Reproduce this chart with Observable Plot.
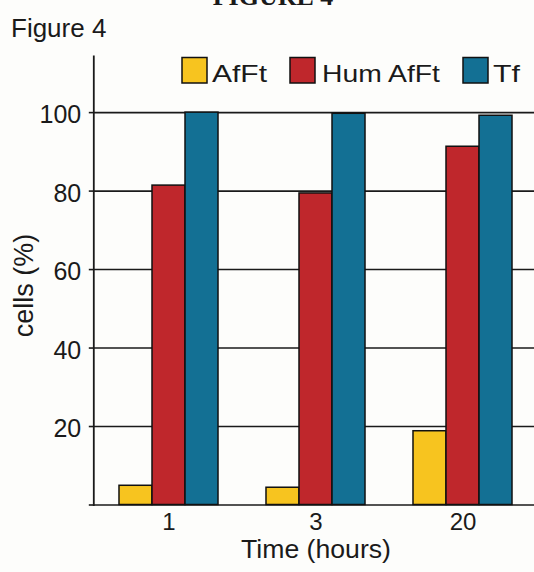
<!DOCTYPE html>
<html><head><meta charset="utf-8">
<script src="https://cdn.jsdelivr.net/npm/d3@7"></script>
<script src="https://cdn.jsdelivr.net/npm/@observablehq/plot@0.6"></script>
<style>
html,body{margin:0;padding:0;background:#fdfdfb;}
#wrap{position:relative;width:534px;height:572px;overflow:hidden;}
#wrap svg{position:absolute;left:0;top:0;}
</style></head><body><div id="wrap"></div>
<script>
const times = ["1", "3", "20"];
const seriesNames = ["AfFt", "Hum AfFt", "Tf"];
const afft = [4.9, 4.4, 18.8];
const humAfft = [81.4, 79.4, 91.3];
const tf = [100, 99.7, 99.2];
const colors = ["#f7c41f", "#bf272c", "#137094"];
const yTicks = [0, 20, 40, 60, 80, 100];
const values = [afft, humAfft, tf];

const W = 534, H = 572, mL = 93.3, mR = 0, mT = 56, mB = 67.5;
const pi = 0.7764, po = 0.381;
const step = (W - mL - mR) / (times.length - pi + 2 * po);
const bw = step * (1 - pi);

const rows = seriesNames.flatMap((s, si) => times.map((t, ti) => ({time: t, series: s, value: values[si][ti]})));
const font = "'Liberation Sans', Arial, Helvetica, sans-serif";

const plot = Plot.plot({
  width: W, height: H, marginLeft: mL, marginRight: mR, marginTop: mT, marginBottom: mB,
  style: {background: "transparent", fontFamily: font, color: "#1a1a1a"},
  x: {type: "band", domain: times, paddingInner: pi, paddingOuter: po, align: 0.517},
  y: {domain: [0, 114.3]},
  marks: [
    Plot.gridY(yTicks, {stroke: "#1a1a1a", strokeOpacity: 1, strokeWidth: 1.6}),
    ...seriesNames.map((s, si) => Plot.barY(rows.filter(r => r.series === s), {
      x: "time", y: "value", fill: colors[si], stroke: "#111", strokeWidth: 1.5, dx: (si - 1) * bw
    })),
    Plot.axisY(yTicks, {tickSize: 4.5, fill: "none", label: null, strokeWidth: 1.6}),
    Plot.axisY(yTicks.filter(d => d > 0), {tickSize: 0, tickPadding: 12.6, fontSize: 25, label: null, dy: 2.5}),
    Plot.axisX({tickSize: 0, tickPadding: 8, fontSize: 24, label: null}),
    Plot.frame({anchor: "left", strokeWidth: 1.8})
  ]
});

const wrap = document.getElementById("wrap");
wrap.appendChild(plot);

const ov = d3.create("svg").attr("width", W).attr("height", H)
  .style("font-family", font).style("fill", "#1a1a1a");
ov.append("text").attr("x", 273).attr("y", 5).attr("text-anchor", "middle")
  .style("font-family", "'Liberation Serif', 'Times New Roman', serif").style("font-weight", "bold")
  .style("font-size", "26px").text("FIGURE 4");
ov.append("text").attr("x", 11).attr("y", 37).style("font-size", "26px").text("Figure 4");

const legSq = [182, 290, 463];
const legTx = [212, 322, 493];
const legLen = [55, 118, 27];
seriesNames.forEach((s, i) => {
  ov.append("rect").attr("x", legSq[i]).attr("y", 57.5).attr("width", 25).attr("height", 25.5)
    .attr("fill", colors[i]).attr("stroke", "#111").attr("stroke-width", 1.5);
  ov.append("text").attr("x", legTx[i]).attr("y", 82).style("font-size", "24px")
    .attr("textLength", legLen[i]).attr("lengthAdjust", "spacingAndGlyphs").text(s);
});
ov.append("text").attr("x", 316).attr("y", 557.5).attr("text-anchor", "middle").style("font-size", "25px")
  .attr("textLength", 150).attr("lengthAdjust", "spacingAndGlyphs").text("Time (hours)");
ov.append("text").attr("transform", "translate(33,285.5) rotate(-90)").attr("text-anchor", "middle")
  .style("font-size", "27px").text("cells (%)");
wrap.appendChild(ov.node());
</script></body></html>
